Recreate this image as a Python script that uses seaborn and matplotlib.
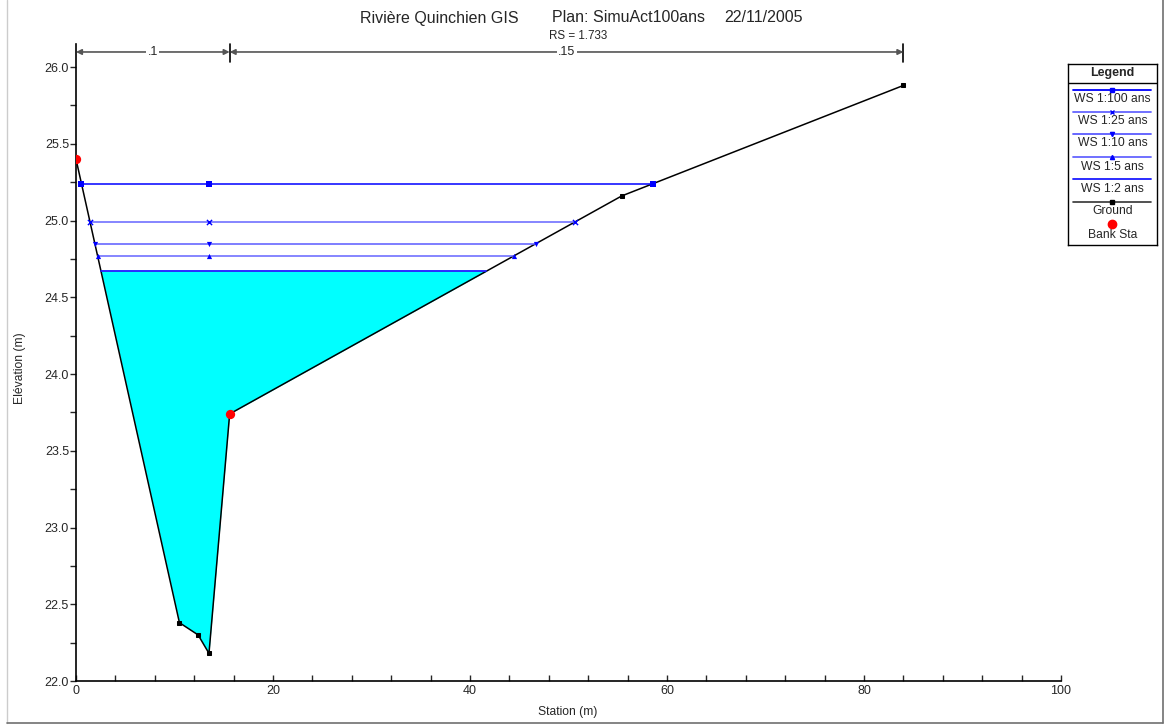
import numpy as np
import matplotlib
matplotlib.use("Agg")
import matplotlib.pyplot as plt
from matplotlib.lines import Line2D
import seaborn as sns

# Ground cross section (station m, elevation m)
ground_sta = [0.0, 10.5, 12.4, 13.5, 15.6, 55.4, 84.0]
ground_elev = [25.40, 22.38, 22.30, 22.18, 23.74, 25.16, 25.88]

# Bank stations
bank_sta = [0.0, 15.6]
bank_elev = [25.40, 23.74]

# Water surface profiles
ws_names = ["WS 1:100 ans", "WS 1:25 ans", "WS 1:10 ans", "WS 1:5 ans", "WS 1:2 ans"]
ws_elev = [25.24, 24.99, 24.85, 24.77, 24.67]
ws_markers = ["s", "x", "v", "^", None]
ws_colors = ["#0000ff", "#6464ff", "#5a5aff", "#6464ff", "#1a1aff"]

# Manning's n breaks
n_sta = [0.0, 15.6, 84.0]
n_labels = [".1", ".15"]

sns.set_style("ticks")
plt.rcParams["font.family"] = ["Liberation Sans", "DejaVu Sans"]

fig = plt.figure(figsize=(11.64, 7.25), dpi=100)
W, H = 1164, 725
ax = fig.add_axes([76 / W, 1 - 681 / H, (1061 - 76) / W, (681 - 44) / H])

gs = np.array(ground_sta)
ge = np.array(ground_elev)
imin = int(np.argmin(ge))
thalweg = gs[imin]


def crossings(z):
    # where a water level meets the ground on each side of the thalweg
    xl = np.interp(z, ge[:imin + 1][::-1], gs[:imin + 1][::-1])
    xr = np.interp(z, ge[imin:], gs[imin:])
    return xl, xr


# filled area below the lowest profile
z2 = ws_elev[-1]
xl, xr = crossings(z2)
xs = np.concatenate([[xl], gs[(gs > xl) & (gs < xr)], [xr]])
ys = np.interp(xs, gs, ge)
ax.fill_between(xs, ys, z2, color="#00ffff", lw=0, zorder=1)

# ground
sns.lineplot(x=ground_sta, y=ground_elev, ax=ax, color="black", lw=1.1,
             marker="s", markersize=3.5, markeredgecolor="black",
             sort=False, legend=False, zorder=3)

# water surfaces
for name, z, m, c in zip(ws_names, ws_elev, ws_markers, ws_colors):
    xl, xr = crossings(z)
    sns.lineplot(x=[xl, xr], y=[z, z], ax=ax, color=c, lw=1.1 if m else 1.3,
                 sort=False, legend=False, zorder=4)
    if m:
        sns.scatterplot(x=[xl, thalweg, xr], y=[z, z, z], ax=ax, color="#0000ff",
                        marker=m, s=14, linewidth=1 if m == "x" else 0,
                        legend=False, zorder=5)

# bank stations
sns.scatterplot(x=bank_sta, y=bank_elev, ax=ax, color="red", s=45,
                linewidth=0, legend=False, zorder=6)

# Manning's n annotation
yn = 26.098
for a, b, lab in zip(n_sta[:-1], n_sta[1:], n_labels):
    ax.annotate("", xy=(a, yn), xytext=(b, yn),
                arrowprops=dict(arrowstyle="<|-|>", color="#555555", lw=1.2,
                                mutation_scale=8, shrinkA=0, shrinkB=0))
    ax.text((a + b) / 2, yn, lab, ha="center", va="center", fontsize=9,
            bbox=dict(facecolor="white", edgecolor="none", pad=1))
for s in n_sta[1:]:
    ax.plot([s, s], [26.03, 26.15], color="black", lw=1.2, clip_on=False)

ax.set_xlim(0, 100)
ax.set_ylim(22.0, 26.15)
ax.set_xticks([0, 20, 40, 60, 80, 100])
ax.set_xticks(np.arange(0, 101, 4), minor=True)
ax.set_yticks([22.0, 22.5, 23.0, 23.5, 24.0, 24.5, 25.0, 25.5, 26.0])
ax.set_yticks(np.arange(22.0, 26.15, 0.25), minor=True)
ax.set_yticklabels([f"{v:.1f}" for v in ax.get_yticks()])
ax.tick_params(axis="x", which="both", direction="in", length=4, width=1, labelsize=9, pad=3)
ax.tick_params(axis="y", which="both", direction="out", length=4, width=1, labelsize=9, pad=1)
sns.despine(ax=ax)
for sp in ["left", "bottom"]:
    ax.spines[sp].set_color("black")
    ax.spines[sp].set_linewidth(1.2)
ax.set_xlabel("")
ax.set_ylabel("")

# titles and axis labels
fig.text(360 / W, 1 - 18 / H, "Rivière Quinchien GIS", fontsize=11.5, ha="left", va="center")
fig.text(552 / W, 1 - 18 / H, "Plan: SimuAct100ans", fontsize=11.5, ha="left", va="center")
fig.text(724 / W, 1 - 18 / H, "22/11/2005", fontsize=11.5, ha="left", va="center")
fig.text(578 / W, 1 - 36 / H, "RS = 1.733", fontsize=8.4, ha="center", va="center")
fig.text(568 / W, 1 - 712 / H, "Station (m)", fontsize=8.7, ha="center", va="center")
fig.text(20 / W, 1 - 368 / H, "Elévation (m)", fontsize=8.7, ha="center", va="center",
         rotation=90)

# legend box
lax = fig.add_axes([1068 / W, 1 - 245 / H, 89 / W, 181 / H])
lax.set_xlim(1068, 1157)
lax.set_ylim(245, 64)
lax.set_xticks([])
lax.set_yticks([])
for sp in lax.spines.values():
    sp.set_color("black")
    sp.set_linewidth(1)
lax.text(1112.5, 73, "Legend", ha="center", va="center", fontsize=9, fontweight="bold")
lax.plot([1068, 1157], [83, 83], color="black", lw=1)
rows_y = [90, 112, 134, 157, 179]
for name, m, c, y in zip(ws_names, ws_markers, ws_colors, rows_y):
    lax.plot([1073, 1151], [y, y], color=c, lw=1.3)
    if m:
        lax.plot([1112], [y], marker=m, color="#0000ff", markersize=3, mew=1)
    lax.text(1112.5, y + 9.5, name, ha="center", va="center", fontsize=8.7)
lax.plot([1073, 1151], [202, 202], color="#333333", lw=1.2)
lax.plot([1112], [202], marker="s", color="black", markersize=3)
lax.text(1112.5, 211, "Ground", ha="center", va="center", fontsize=8.7)
lax.plot([1112], [224], marker="o", color="red", markersize=6)
lax.text(1112.5, 235, "Bank Sta", ha="center", va="center", fontsize=8.7)

# outer frame
fig.add_artist(Line2D([7 / W, 7 / W], [1 - 723 / H, 1], transform=fig.transFigure,
                      color="#cccccc", lw=1))
fig.add_artist(Line2D([1162.5 / W, 1162.5 / W], [1 - 723 / H, 1], transform=fig.transFigure,
                      color="#707070", lw=1.2))
fig.add_artist(Line2D([7 / W, 1162.5 / W], [1 - 723 / H, 1 - 723 / H], transform=fig.transFigure,
                      color="#707070", lw=1.2))

fig.savefig("out.png", dpi=100)
